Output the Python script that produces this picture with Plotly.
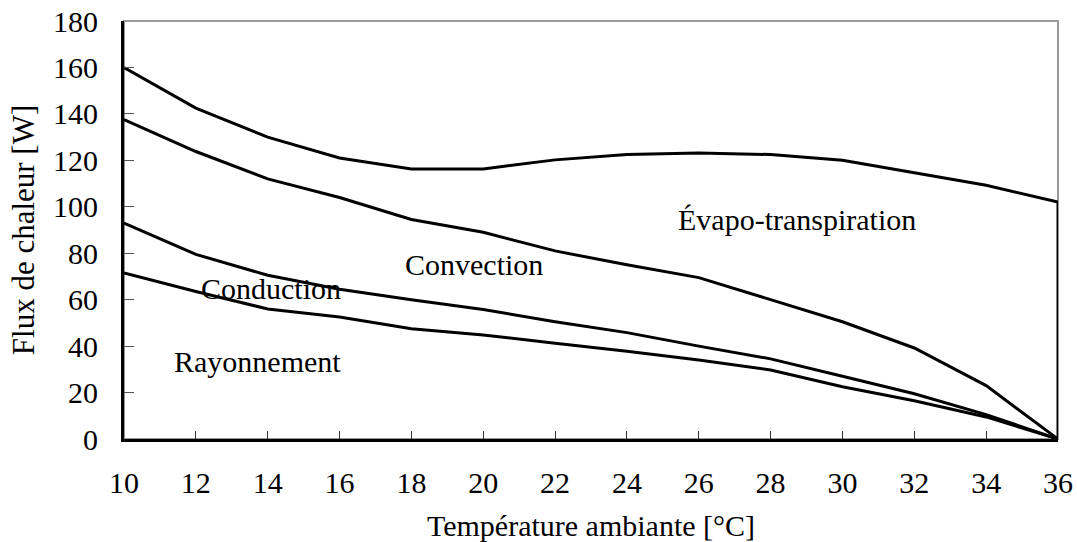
import plotly.graph_objects as go

# Data (cumulative heat flux, W)
temperature = [10, 12, 14, 16, 18, 20, 22, 24, 26, 28, 30, 32, 34, 36]
rayonnement = [71.5, 63.5, 56, 52.5, 47.5, 44.8, 41.2, 37.8, 34, 29.7, 22.5, 16.5, 9.5, 0]
conduction = [93, 79.5, 70.5, 64.5, 60, 55.8, 50.5, 45.8, 40, 34.5, 27, 19.5, 10.5, 0]
convection = [137.5, 123.8, 112, 104, 94.5, 89, 81, 75, 69.5, 60, 50.5, 39.2, 23, 0]
evapo = [160, 142.5, 130, 121, 116.3, 116.3, 120.2, 122.5, 123.2, 122.5, 120, 114.5, 109.3, 102]

# Region labels
label_text = ["Évapo-transpiration", "Convection", "Conduction", "Rayonnement"]
label_x = [28.74, 19.73, 14.1, 13.73]
label_y = [94.5, 75, 64.6, 33.2]

x_ticks = list(range(10, 37, 2))
y_ticks = list(range(0, 181, 20))

FONT = "Liberation Serif"
LINE = dict(color="black", width=3)

fig = go.Figure()
for series in [rayonnement, conduction, convection]:
    fig.add_trace(go.Scatter(x=temperature, y=series, mode="lines", line=LINE,
                             hoverinfo="skip", showlegend=False))
# top curve, closed down to zero at the last temperature
fig.add_trace(go.Scatter(x=temperature + [temperature[-1]], y=evapo + [0],
                         mode="lines", line=LINE, hoverinfo="skip", showlegend=False))

for t, x, y in zip(label_text, label_x, label_y):
    fig.add_annotation(x=x, y=y, text=t, showarrow=False,
                       font=dict(family=FONT, size=30, color="black"))

# light frame on top / right
fig.add_shape(type="rect", xref="paper", yref="paper", x0=0, y0=0, x1=1, y1=1,
              line=dict(color="#9a9a9a", width=2), layer="below")

fig.update_layout(
    width=1077, height=542,
    margin=dict(l=124, r=19, t=21, b=103),
    paper_bgcolor="white", plot_bgcolor="white",
    font=dict(family=FONT, size=30, color="black"),
    xaxis=dict(range=[10, 36], tickvals=x_ticks, ticks="inside", ticklen=8,
               tickcolor="#333", tickwidth=1, showgrid=False, zeroline=False,
               showline=True, linecolor="black", linewidth=3,
               ticklabelstandoff=15, automargin=False,
               tickfont=dict(family=FONT, size=30),
               title=dict(text="Température ambiante [°C]", standoff=20,
                          font=dict(family=FONT, size=30))),
    yaxis=dict(range=[0, 180], tickvals=y_ticks, ticks="inside", ticklen=10,
               tickcolor="#555", tickwidth=1, showgrid=False, zeroline=False,
               showline=True, linecolor="black", linewidth=3,
               ticklabelstandoff=17, automargin=False,
               tickfont=dict(family=FONT, size=30),
               title=dict(text="Flux de chaleur [W]", standoff=10,
                          font=dict(family=FONT, size=31))),
)

fig.write_html("out.html")
